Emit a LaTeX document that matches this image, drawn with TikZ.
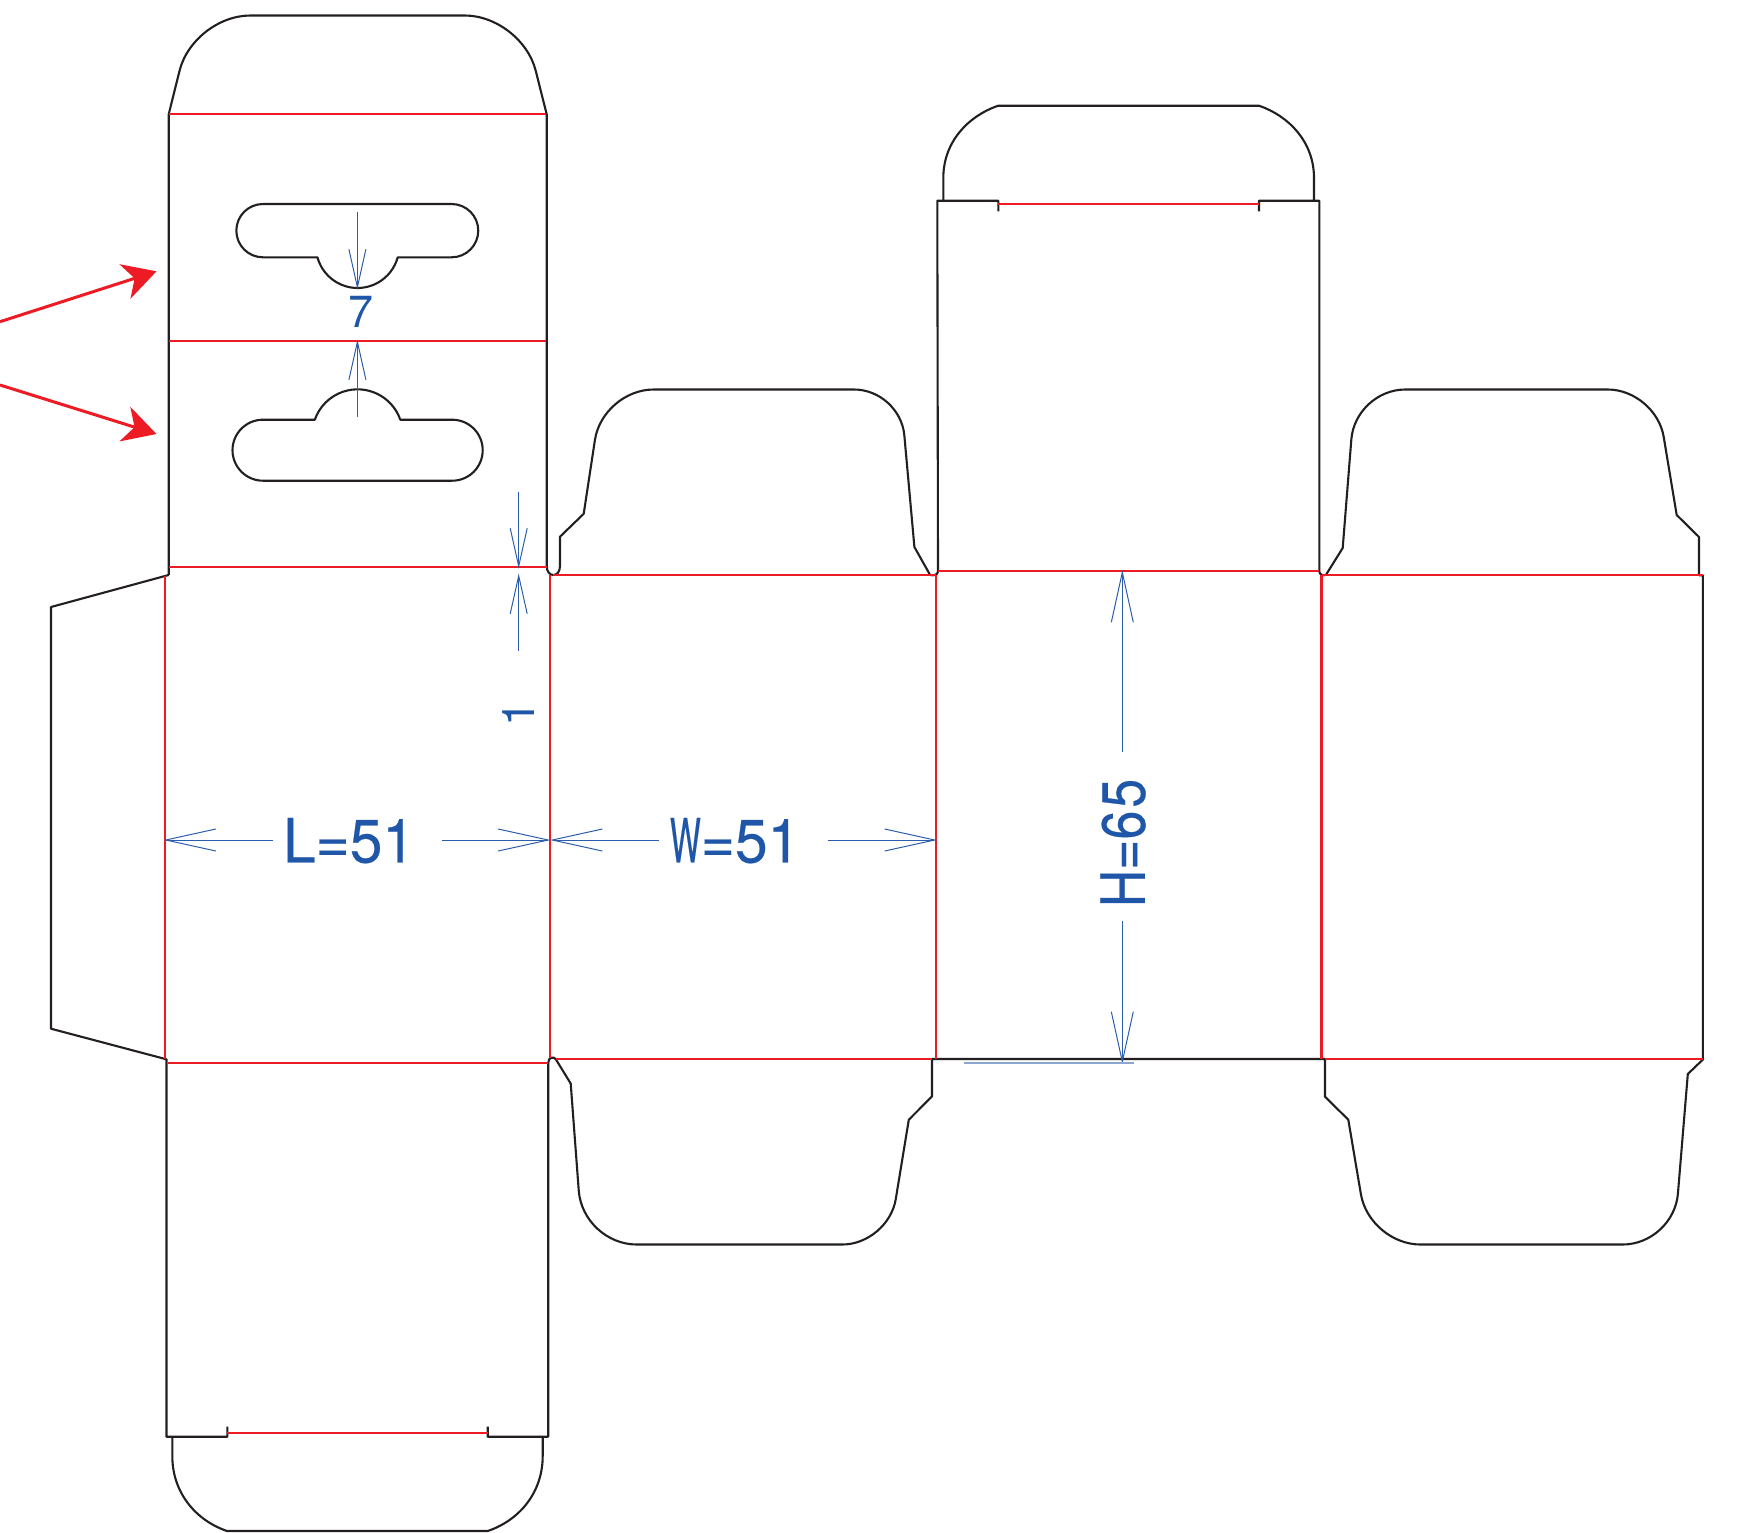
\documentclass[tikz,border=0pt]{standalone}
\usepackage{fontspec}
\usepackage{xcolor}
\usetikzlibrary{arrows.meta}
\setmainfont{TeX Gyre Heros}
\newfontfamily\dimfont[FakeStretch=0.96,FakeBold=0.4]{TeX Gyre Heros}
\newfontfamily\heifont[FakeStretch=0.85,FakeBold=0.4]{TeX Gyre Heros}
\definecolor{cutcol}{HTML}{231F20}
\definecolor{foldcol}{HTML}{ED1C24}
\definecolor{dimcol}{HTML}{2C5DAB}
\definecolor{labelcol}{HTML}{1F56A8}
\newcommand{\narrowW}{\scalebox{0.56}[1]{W}}

\begin{document}
\begin{tikzpicture}[x=1pt,y=-1pt]

\tikzstyle{cut}=[draw=cutcol,line width=2.1pt,line join=round]
\tikzstyle{fold}=[draw=foldcol,line width=2.1pt]
\tikzstyle{dimline}=[draw=dimcol,line width=1pt,-{Straight Barb[length=50pt,width=22pt]}]
\tikzstyle{shortdim}=[dimline,-{Straight Barb[length=38pt,width=17pt]}]
\tikzstyle{biglabel}=[text=labelcol,inner sep=0pt,font=\dimfont\fontsize{61}{61}\selectfont]
\tikzstyle{heilabelstyle}=[text=labelcol,inner sep=0pt,font=\heifont\fontsize{61}{61}\selectfont]
\tikzstyle{smalllabel}=[text=labelcol,inner sep=0pt,font=\fontsize{45}{45}\selectfont]
\tikzstyle{pointer}=[draw=foldcol,line width=3pt,-{Stealth[length=33pt,width=36pt,inset=10pt]}]

\useasboundingbox (0,0) rectangle (1740,1532);

\draw[cut] (168.7,575) -- (168.7,114.3) [rounded corners=57pt] -- (193.3,15.5) -- (521.8,15.5) [sharp corners] -- (546.7,114.3) -- (546.7,566)
	.. controls (546.7,578) and (560,578) .. (560,566) -- (560,536.7) -- (583.7,513.8) [rounded corners=51pt] -- (602.6,389.5) [rounded corners=46pt] -- (900.2,389.5) [sharp corners] -- (914.4,547) -- (930,574.8)
	.. controls (933,576) and (938,575) .. (938,571.4) -- (937.3,200.7) -- (998.3,200.7) -- (998.3,211.3);
\draw[cut] (1259,211.3) -- (1259,200.7) -- (1319.3,200.7) -- (1319.3,571.4)
	.. controls (1319.3,575) and (1324,576) .. (1326,574.8) -- (1342.7,548) [rounded corners=50pt] -- (1355.3,389.5) [rounded corners=48pt] -- (1655.8,389.5) [sharp corners] -- (1676.7,515) -- (1699,537) -- (1699,575.4);
\draw[cut] (943.3,200.7) -- (943.3,178) .. controls (943.3,142) and (968,116) .. (998.3,105.7) -- (1259,105.7)
	.. controls (1289,116) and (1314,142) .. (1314,178) -- (1314,200.7);
\draw[cut] (1699,575.4) -- (1702.9,575.4) -- (1702.9,1059.5) -- (1687.8,1074) [rounded corners=51pt] -- (1673.7,1244.5) -- (1369.4,1244.5) [sharp corners] -- (1348.3,1119.7) -- (1325,1096.7) -- (1325,1059) -- (932,1059)
	-- (932,1096.4) -- (908.8,1119.7) [rounded corners=46pt] -- (888.3,1244.5) [rounded corners=54pt] -- (582.8,1244.5) [sharp corners] -- (570.7,1083.5) -- (556,1059.5)
	.. controls (554,1056) and (548.2,1057) .. (548.2,1063) -- (548.2,1436.7) -- (487.7,1436.7) -- (487.7,1426.7);
\draw[cut] (227.3,1426.7) -- (227.3,1436.7) -- (166.5,1436.7) -- (166.5,1059.3) -- (51,1028.7) -- (51,607) -- (168.7,575);
\draw[cut] (172.3,1436.7) -- (172.3,1456) .. controls (172.3,1492) and (195,1520) .. (227,1531) -- (487.7,1531)
	.. controls (520,1520) and (542.7,1492) .. (542.7,1456) -- (542.7,1436.7);

\draw[cut] (263,204) -- (451.6,204) arc[start angle=-90,end angle=90,radius=26.65] -- (397.7,257.3)
	arc[start angle=15.2,end angle=164.8,radius=41.6] -- (263,257.3) arc[start angle=90,end angle=270,radius=26.65] -- cycle;
\draw[cut] (263,480.7) -- (452.2,480.7) arc[start angle=90,end angle=-90,radius=30.5] -- (400.3,419.7)
	arc[start angle=340.8,end angle=199.2,radius=45.26] -- (263,419.7) arc[start angle=270,end angle=90,radius=30.5] -- cycle;

\draw[fold] (168.7,114.3) -- (546.4,114.3);
\draw[fold] (168.7,340.7) -- (546.4,340.7);
\draw[fold] (168.7,567.2) -- (546.7,567.2);
\draw[fold] (553,575.3) -- (935.5,575.3);
\draw[fold] (938,571.4) -- (1319.3,571.4);
\draw[fold] (1322,575.3) -- (1702.9,575.3);
\draw[fold] (167.5,1063) -- (548.2,1063);
\draw[fold] (556,1059) -- (932,1059);
\draw[fold] (1325,1059) -- (1702.9,1059);
\draw[fold] (164.8,576) -- (164.8,1059);
\draw[fold] (550.4,575.3) -- (550.4,1058);
\draw[fold] (935.6,575.3) -- (935.6,1059);
\draw[fold] (1321.5,575.3) -- (1321.5,1059);
\draw[fold] (998.3,204.3) -- (1259,204.3);
\draw[fold] (227.3,1433.3) -- (487.7,1433.3);

\node[biglabel] (lenlabel) at (349,840.6) {L=51};
\node[biglabel] (widlabel) at (735,840.6) {\narrowW=51};
\node[heilabelstyle,rotate=90] (heilabel) at (1123,843) {H=6\kern3pt 5};
\node[smalllabel] (holelabel) at (360.7,311.7) {7};
\node[smalllabel,rotate=90] (gaplabel) at (519,714) {1};

\coordinate (lenA) at (273,840);
\coordinate (lenB) at (163.5,840);
\coordinate (lenC) at (441.8,840);
\coordinate (lenD) at (550.5,840);
\coordinate (widA) at (658.7,840);
\coordinate (widB) at (550,840);
\coordinate (widC) at (827.6,840);
\coordinate (widD) at (937,840);
\coordinate (heiA) at (1122.3,751.7);
\coordinate (heiB) at (1122.3,570);
\coordinate (heiC) at (1122.3,920.7);
\coordinate (heiD) at (1122.3,1064);
\coordinate (holeA) at (357.4,212);
\coordinate (holeB) at (357.4,289.5);
\coordinate (holeC) at (357.4,416.7);
\coordinate (holeD) at (357.4,339.5);
\coordinate (gapA) at (518.7,491.7);
\coordinate (gapB) at (518.7,568.5);
\coordinate (gapC) at (518.7,650.7);
\coordinate (gapD) at (518.7,573.5);

\draw[dimline] (lenA) -- (lenB);
\draw[dimline] (lenC) -- (lenD);
\draw[dimline] (widA) -- (widB);
\draw[dimline] (widC) -- (widD);
\draw[dimline] (heiA) -- (heiB);
\draw[dimline] (heiC) -- (heiD);
\draw[shortdim] (holeA) -- (holeB);
\draw[shortdim] (holeC) -- (holeD);
\draw[shortdim] (gapA) -- (gapB);
\draw[shortdim] (gapC) -- (gapD);

\coordinate (baseA) at (963.8,1062.8);
\coordinate (baseB) at (1134.3,1062.8);
\draw[draw=dimcol!55,line width=1.4pt] (baseA) -- (baseB);

\coordinate (srcA) at (0,321.7);
\coordinate (tipA) at (156.5,271.3);
\coordinate (srcB) at (0,385);
\coordinate (tipB) at (156.5,434);
\draw[pointer] (srcA) -- (tipA);
\draw[pointer] (srcB) -- (tipB);

\end{tikzpicture}
\end{document}
